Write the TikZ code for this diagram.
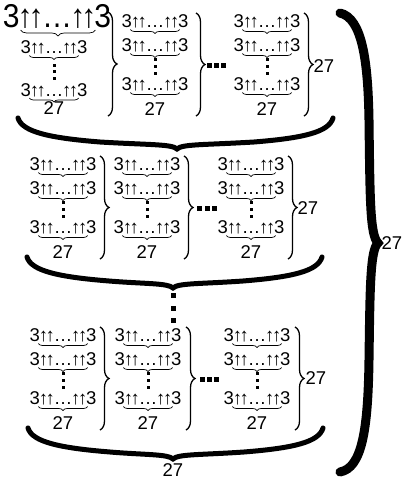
\documentclass[tikz,border=0pt]{standalone}
\usepackage{fontspec}
\setmainfont{Liberation Sans}
\usepackage{tikz}
\usetikzlibrary{decorations.pathreplacing}

\newcommand{\tup}{3\kern-0.065em↑\kern-0.135em↑\kern-0.055em…\kern-0.055em↑\kern-0.135em↑\kern-0.065em3}
\tikzset{
  tw/.style={inner sep=0pt, anchor=base, font=\fontsize{18.5}{18.5}\selectfont},
  twbig/.style={inner sep=0pt, anchor=base, font=\fontsize{33}{33}\selectfont},
  num/.style={inner sep=0pt, font=\fontsize{18.5}{18.5}\selectfont},
  ubrace/.style={decorate, decoration={brace, mirror, amplitude=4pt}, line width=0.7pt},
  cbrace/.style={decorate, decoration={brace, amplitude=9pt}, line width=1.3pt},
  rowbrace/.style={line width=5pt, line cap=round},
  allbrace/.style={line width=9pt, line cap=round}
}

% one column: name, x, y of first line, x of its brace
\newcommand{\towercol}[4]{%
  \node [tw] (#1a) at (#2,#3+6.5) {\tup};
  \node [tw] (#1b) at (#2,#3+30.5) {\tup};
  \node [tw] (#1c) at (#2,#3+69.5) {\tup};
  \node [num] (#1n) at (#2,#3+88) {27};
  \foreach \tn in {#1a,#1b,#1c}
    \draw [ubrace] ([xshift=9pt,yshift=-2pt]\tn.base west) -- ([xshift=-9pt,yshift=-2pt]\tn.base east);
  \foreach \d in {38,45,52}
    \fill (#2-1.5,#3+\d-1.5) rectangle ++(3,3);
  \draw [cbrace] (#4,#3-8) -- (#4,#3+95);
}

% thick brace under a row: left x, middle x, right x, top y
\newcommand{\underrow}[4]{%
  \draw [rowbrace] (#1,#4) .. controls (#1+4,#4+14) and (#1+32,#4+20) .. (#1+82,#4+24)
    .. controls (#2-27,#4+27) and (#2-5,#4+26) .. (#2,#4+31)
    .. controls (#2+5,#4+26) and (#2+27,#4+27) .. (#3-79,#4+24)
    .. controls (#3-29,#4+20) and (#3-4,#4+14) .. (#3,#4);
}

\begin{document}
\begin{tikzpicture}[x=1pt, y=-1pt]
        \useasboundingbox (0,0) rectangle (404,480);

        % first row
        \node [twbig] (big) at (57,27) {\scalebox{0.91}[1]{\tup}};
        \draw [ubrace, decoration={amplitude=6pt}] ([xshift=18pt,yshift=-3pt]big.base west) -- ([xshift=-16pt,yshift=-3pt]big.base east);
        \node [tw] (ra1b) at (54,53.5) {\tup};
        \node [tw] (ra1c) at (54,96) {\tup};
        \node [num] (ra1n) at (54,108) {27};
        \foreach \tn in {ra1b,ra1c}
          \draw [ubrace] ([xshift=9pt,yshift=-2pt]\tn.base west) -- ([xshift=-9pt,yshift=-2pt]\tn.base east);
        \foreach \d in {65,71.5,78}
          \fill (52.5,\d-1.5) rectangle ++(3,3);
        \draw [cbrace] (108,12) -- (108,116);
        \towercol{ra2}{155}{21}{196}
        \towercol{ra3}{267}{21}{304}
        \foreach \x in {209.5,216.5,223.5}
          \fill (\x-2.5,62.5) rectangle ++(5,5);
        \node [num] (ra27) at (324,66) {27};
        \underrow{18}{177}{333}{118}

        % second row
        \towercol{rb1}{63}{164}{100}
        \towercol{rb2}{147}{164}{184}
        \towercol{rb3}{251}{164}{288}
        \foreach \x in {199.5,207,214.5}
          \fill (\x-2.5,205.5) rectangle ++(5,5);
        \node [num] (rb27) at (308,208) {27};
        \underrow{27}{173}{322}{257}

        \foreach \y in {295,308,320}
          \fill (170.5,\y-2.5) rectangle ++(5,5);

        % last row
        \towercol{rc1}{63}{335}{100}
        \towercol{rc2}{148}{335}{186}
        \towercol{rc3}{257}{335}{295}
        \foreach \x in {202,209,216}
          \fill (\x-2.5,376.5) rectangle ++(5,5);
        \node [num] (rc27) at (316,378) {27};
        \underrow{28}{173}{323}{428}
        \node [num] (rcn) at (173,470) {27};

        % brace over all rows
        \draw [allbrace] (340,13) .. controls (362,18) and (368,60) .. (369,120)
          .. controls (370,200) and (370,235) .. (378,243)
          .. controls (370,250) and (370,290) .. (369,360)
          .. controls (368,430) and (362,468) .. (340,472);
        \node [num] (all) at (392,243) {27};

\end{tikzpicture}
\end{document}
